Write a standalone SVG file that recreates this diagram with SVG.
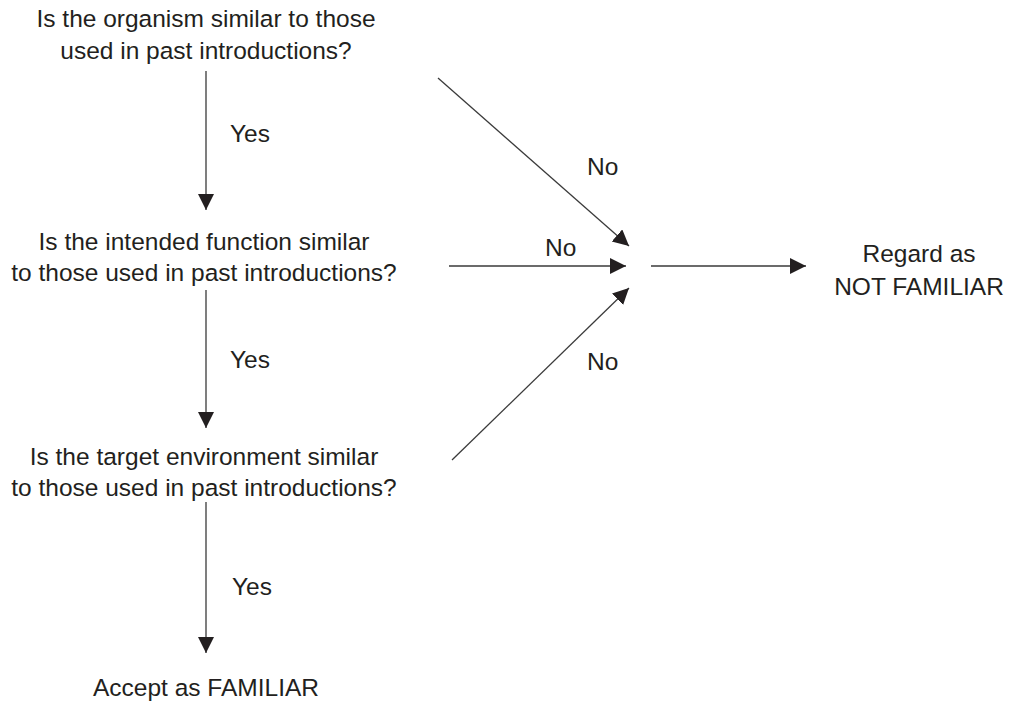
<svg xmlns="http://www.w3.org/2000/svg" width="1011" height="703" viewBox="0 0 1011 703">
<style>
  .t { font-family: "Liberation Sans", Arial, Helvetica, sans-serif; font-size: 24.5px; fill: #231f20; }
  .c { text-anchor: middle; }
  .ln { stroke: #3a3a3a; stroke-width: 1.3; fill: none; marker-end: url(#ah); }
</style>
<defs>
  <marker id="ah" markerUnits="userSpaceOnUse" markerWidth="18" markerHeight="18" refX="16" refY="8" orient="auto" viewBox="0 0 18 18">
    <path d="M0,0 L16,8 L0,16 z" fill="#231f20"/>
  </marker>
</defs>
<rect width="1011" height="703" fill="#ffffff"/>
<g id="q1">
  <text class="t c" x="206" y="27">Is the organism similar to those</text>
  <text class="t c" x="206" y="59">used in past introductions?</text>
</g>
<g id="q2">
  <text class="t c" x="204" y="250">Is the intended function similar</text>
  <text class="t c" x="204" y="281">to those used in past introductions?</text>
</g>
<g id="q3">
  <text class="t c" x="204" y="465">Is the target environment similar</text>
  <text class="t c" x="204" y="496">to those used in past introductions?</text>
</g>
<g id="familiar">
  <text class="t c" x="206" y="696">Accept as FAMILIAR</text>
</g>
<g id="notfamiliar">
  <text class="t c" x="919" y="262">Regard as</text>
  <text class="t c" x="919" y="295">NOT FAMILIAR</text>
</g>
<g id="connectors">
  <line class="ln" x1="206" y1="71" x2="206" y2="210"/>
  <line class="ln" x1="206" y1="290" x2="206" y2="428"/>
  <line class="ln" x1="206" y1="502" x2="206" y2="653"/>
  <line class="ln" x1="438" y1="78" x2="629" y2="246"/>
  <line class="ln" x1="449" y1="266" x2="626" y2="266"/>
  <line class="ln" x1="452" y1="460" x2="629" y2="288"/>
  <line class="ln" x1="651" y1="266" x2="806" y2="266"/>
  <text class="t" x="230" y="142">Yes</text>
  <text class="t" x="230" y="368">Yes</text>
  <text class="t" x="232" y="595">Yes</text>
  <text class="t" x="587" y="175">No</text>
  <text class="t" x="545" y="256">No</text>
  <text class="t" x="587" y="370">No</text>
</g>
</svg>
